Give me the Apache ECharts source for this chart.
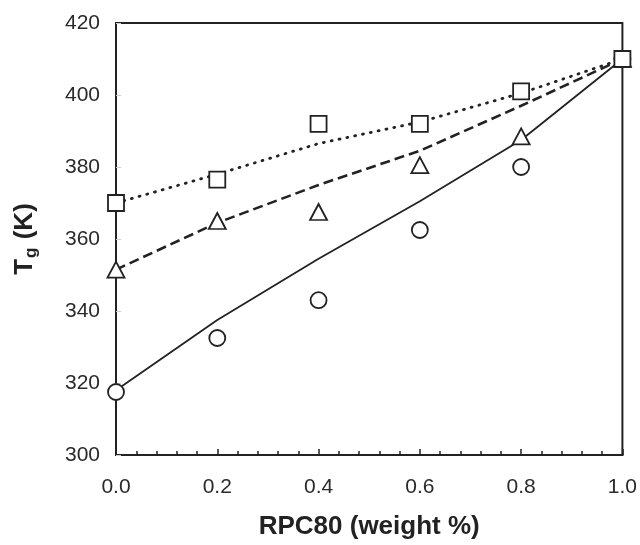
<!DOCTYPE html>
<html>
<head>
<meta charset="utf-8">
<script src="https://cdn.jsdelivr.net/npm/echarts@6/dist/echarts.min.js"></script>
<style>
html,body{margin:0;padding:0;background:#fff;}
#chart{width:640px;height:545px;}
</style>
</head>
<body>
<div id="chart"></div>
<script>
// Composition (weight fraction of RPC80)
var xValues = [0.0, 0.2, 0.4, 0.6, 0.8, 1.0];
// Measured Tg (K)
var circleTg   = [317.5, 332.5, 343.0, 362.5, 380.0, 410.0];
var triangleTg = [351.5, 365.0, 367.5, 380.5, 388.5, 410.0];
var squareTg   = [370.0, 376.5, 392.0, 392.0, 401.0, 410.0];
// Model curves (K)
var solidFit  = [318.0, 337.5, 354.5, 370.5, 387.5, 410.0];
var dashedFit = [351.5, 364.5, 375.0, 384.5, 397.0, 410.0];
var dottedFit = [370.0, 378.0, 386.5, 392.5, 400.5, 410.0];
// Axis
var xMin = 0, xMax = 1, xStep = 0.2;
var yMin = 300, yMax = 420, yStep = 20;

function pairs(xs, ys){ return xs.map(function(x,i){ return [x, ys[i]]; }); }

var ink = '#222';
var font = 'Liberation Sans, Arial, sans-serif';
var chart = echarts.init(document.getElementById('chart'), null, {renderer:'canvas'});

var markerStyle = {color:'#fff', borderColor: ink, borderWidth: 1.8, opacity: 1};

chart.setOption({
  animation: false,
  backgroundColor: '#fff',
  grid: {left:116, right:17, top:23, bottom:90, show:true, borderColor: ink, borderWidth:2, backgroundColor:'transparent'},
  xAxis: {
    type:'value', min:xMin, max:xMax, interval:xStep,
    name:'RPC80 (weight %)', nameLocation:'middle', nameGap:59,
    nameTextStyle:{fontFamily:font, fontSize:26, fontWeight:'bold', color:ink},
    axisLine:{show:true, lineStyle:{color:ink, width:2}},
    axisTick:{show:true, inside:true, length:6, lineStyle:{color:ink, width:1.5}},
    minorTick:{show:true, splitNumber:5, length:4, lineStyle:{color:ink, width:1.5}},
    splitLine:{show:false},
    axisLabel:{margin:22, fontFamily:font, fontSize:21, color:'#2a2a2a', formatter:function(v){return v.toFixed(1);}}
  },
  yAxis: {
    type:'value', min:yMin, max:yMax, interval:yStep,
    name:'{b|T}{s|g}{b| (K)}', nameLocation:'middle', nameGap:76, nameRotate:90,
    nameTextStyle:{fontFamily:font, color:ink,
      rich:{
        b:{fontFamily:font, fontSize:26, fontWeight:'bold', color:ink},
        s:{fontFamily:font, fontSize:17, fontWeight:'bold', color:ink, padding:[13,1,0,1]}
      }},
    axisLine:{show:true, lineStyle:{color:ink, width:2}},
    axisTick:{show:true, inside:true, length:5, lineStyle:{color:'#d0d0d0', width:1}},
    splitLine:{show:false},
    axisLabel:{margin:16, fontFamily:font, fontSize:21, color:'#2a2a2a'}
  },
  series: [
    {type:'line', data:pairs(xValues, solidFit), symbol:'none', z:3,
      lineStyle:{color:ink, width:1.8, type:'solid'}},
    {type:'line', data:pairs(xValues, dashedFit), symbol:'none', z:3,
      lineStyle:{color:ink, width:2.6, type:[10,5]}},
    {type:'line', data:pairs(xValues, dottedFit), symbol:'none', z:3,
      lineStyle:{color:ink, width:2.8, type:[1,7], cap:'round'}},
    {type:'scatter', data:pairs(xValues, circleTg), symbol:'circle', symbolSize:16, clip:false, z:5,
      itemStyle:markerStyle},
    {type:'scatter', data:pairs(xValues, triangleTg), symbol:'triangle', symbolSize:[17,16], clip:false, z:5,
      itemStyle:markerStyle},
    {type:'scatter', data:pairs(xValues, squareTg), symbol:'rect', symbolSize:16, clip:false, z:5,
      itemStyle:markerStyle}
  ]
});
</script>
</body>
</html>
